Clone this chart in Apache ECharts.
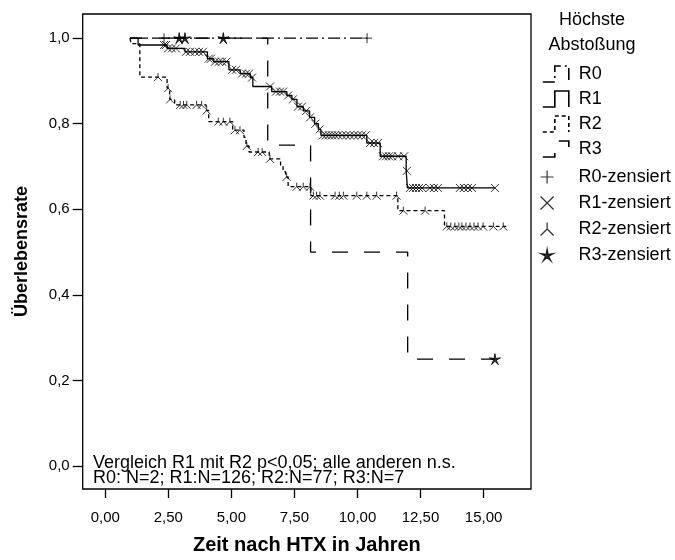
<!DOCTYPE html>
<html><head><meta charset="utf-8">
<script src="https://cdn.jsdelivr.net/npm/echarts@6/dist/echarts.min.js"></script>
<style>html,body{margin:0;padding:0;background:#fff}#c{width:675px;height:560px}</style>
</head><body><div id="c"></div>
<script>
const xTicks = [0, 2.5, 5, 7.5, 10, 12.5, 15];
const yTicks = [0, 0.2, 0.4, 0.6, 0.8, 1.0];
const groups = ['R0', 'R1', 'R2', 'R3'];
const censNames = ['R0-zensiert', 'R1-zensiert', 'R2-zensiert', 'R3-zensiert'];

// Kaplan-Meier steps: [time in years, survival after that time]
const r0Steps = [[0.98, 1.0], [10.38, 1.0]];
const r0Cens = [2.33, 10.38];

const r1Steps = [[0.98,1.0],[1.30,0.984],[2.45,0.976],[3.16,0.968],[4.05,0.952],[4.30,0.945],[4.90,0.926],[5.35,0.917],[5.75,0.908],[5.85,0.887],[6.60,0.875],[7.20,0.866],[7.40,0.857],[7.60,0.840],[7.85,0.830],[8.10,0.815],[8.30,0.800],[8.45,0.787],[8.55,0.773],[10.37,0.755],[10.90,0.724],[11.93,0.690],[11.98,0.650],[15.45,0.650]];
const r1Cens = [2.33,2.41,2.49,2.64,2.80,3.20,3.36,3.56,3.72,3.87,4.10,4.19,4.35,4.51,4.63,4.80,5.03,5.18,5.42,5.58,5.70,5.82,6.53,6.77,6.93,7.05,7.25,7.44,7.64,7.80,7.97,8.12,8.33,8.50,8.63,8.75,8.87,8.99,9.11,9.23,9.39,9.55,9.70,9.86,10.02,10.17,10.33,10.50,10.65,10.81,11.01,11.13,11.25,11.37,11.61,11.85,11.96,12.08,12.20,12.32,12.44,12.56,12.87,13.03,13.19,14.06,14.22,14.38,14.54,15.45];

const r2Steps = [[0.98,1.0],[1.02,0.987],[1.37,0.909],[2.45,0.883],[2.55,0.857],[2.75,0.844],[4.00,0.831],[4.10,0.805],[5.05,0.785],[5.50,0.768],[5.58,0.748],[5.70,0.734],[6.50,0.718],[6.95,0.700],[7.05,0.688],[7.15,0.676],[7.25,0.653],[8.15,0.632],[11.60,0.597],[13.45,0.560],[15.90,0.560]];
const r2Cens = [2.09,2.49,2.57,2.97,3.10,3.23,3.62,3.82,4.02,4.48,4.68,4.94,5.14,5.34,5.61,6.06,6.22,6.53,7.19,7.59,7.85,8.12,8.25,8.38,8.51,9.11,9.28,9.44,9.97,10.37,10.76,11.55,11.82,12.68,13.54,13.70,13.86,14.02,14.14,14.30,14.46,14.62,14.78,14.98,15.39,15.78];

const r3Steps = [[0.98,1.0],[6.44,0.75],[8.14,0.5],[11.99,0.25],[15.45,0.25]];
const r3Cens = [2.93, 3.16, 4.68, 15.45];

const noteLines = ['Vergleich R1 mit R2 p<0,05; alle anderen n.s.', 'R0: N=2; R1:N=126; R2:N=77; R3:N=7'];

function survAt(steps, t) {
  let s = steps[0][1];
  for (const p of steps) if (p[0] <= t + 1e-9) s = p[1];
  return s;
}
function starPath() {
  let p = '';
  for (let i = 0; i < 10; i++) {
    const r = i % 2 ? 1.5 : 6;
    const a = -Math.PI / 2 + i * Math.PI / 5;
    p += (i ? 'L' : 'M') + (r * Math.cos(a)).toFixed(2) + ',' + (r * Math.sin(a)).toFixed(2);
  }
  return 'path://' + p + 'Z';
}
const SYM = {
  plus: 'path://M5,0L5,10M0,5L10,5',
  cross: 'path://M0,0L10,10M0,10L10,0',
  ylam: 'path://M5,0L5,5M5,5L0,10M5,5L10,10',
  star: starPath()
};
const stepIcon = 'path://M0,16L12,16L12,0L26,0L26,16';
const FONT = 'Liberation Sans, Arial, sans-serif';

const allSteps = [r0Steps, r1Steps, r2Steps, r3Steps];
const allCens = [r0Cens, r1Cens, r2Cens, r3Cens];
const dashes = [[12, 4, 2, 4], 'solid', [4, 3], [16, 16]];
const syms = [SYM.plus, SYM.cross, SYM.ylam, SYM.star];
const symSizes = [10, 8, 8, 11];

const series = [];
groups.forEach((g, i) => {
  series.push({
    name: g, type: 'line', step: 'end', data: allSteps[i], showSymbol: false, symbol: 'none',
    lineStyle: { color: '#000', width: 1.3, type: dashes[i] }, itemStyle: { color: '#000' },
    animation: false, z: 2
  });
});
groups.forEach((g, i) => {
  series.push({
    name: censNames[i], type: 'scatter', symbol: syms[i], symbolSize: symSizes[i],
    data: allCens[i].map(t => [t, survAt(allSteps[i], t)]),
    itemStyle: { color: '#000', borderColor: '#000', borderWidth: 1 },
    animation: false, z: 3
  });
});

const chart = echarts.init(document.getElementById('c'), null, { renderer: 'canvas' });
chart.setOption({
  backgroundColor: '#fff',
  animation: false,
  grid: { left: 82.7, right: 144, top: 14, bottom: 68, show: true, borderColor: '#000', borderWidth: 1.3, containLabel: false },
  xAxis: {
    type: 'value', min: -0.896, max: 16.88,
    name: 'Zeit nach HTX in Jahren', nameLocation: 'middle', nameGap: 46,
    nameTextStyle: { fontFamily: FONT, fontSize: 20, fontWeight: 'bold', color: '#000' },
    axisLine: { show: false, onZero: false },
    axisTick: { show: true, customValues: xTicks, length: 9, lineStyle: { color: '#000', width: 1.3 } },
    axisLabel: { customValues: xTicks, formatter: v => v.toFixed(2).replace('.', ','), fontFamily: FONT, fontSize: 15, color: '#000', margin: 21 },
    splitLine: { show: false }
  },
  yAxis: {
    type: 'value', min: -0.0534, max: 1.0564,
    name: 'Überlebensrate', nameLocation: 'middle', nameGap: 52, nameRotate: 90,
    nameTextStyle: { fontFamily: FONT, fontSize: 18, fontWeight: 'bold', color: '#000' },
    axisLine: { show: false, onZero: false },
    axisTick: { show: true, customValues: yTicks, length: 10, lineStyle: { color: '#000', width: 1.3 } },
    axisLabel: { customValues: yTicks, formatter: v => v.toFixed(1).replace('.', ','), fontFamily: FONT, fontSize: 15, color: '#000', margin: 13 },
    splitLine: { show: false }
  },
  legend: [
    {
      orient: 'vertical', left: 537, top: 60, itemWidth: 28, itemHeight: 16, itemGap: 7,
      selectedMode: false,
      textStyle: { fontFamily: FONT, fontSize: 18, color: '#000', padding: [0, 0, 0, 4] },
      data: groups.map((g, i) => ({
        name: g, icon: stepIcon,
        itemStyle: { color: 'rgba(0,0,0,0)', borderColor: '#000', borderWidth: 1.6, borderType: dashes[i] }
      }))
    },
    {
      orient: 'vertical', left: 535, top: 163, itemWidth: 13, itemHeight: 13, itemGap: 8,
      selectedMode: false,
      textStyle: { fontFamily: FONT, fontSize: 18, color: '#000', padding: [0, 0, 0, 20] },
      data: censNames.map((g, i) => ({
        name: g, icon: syms[i],
        itemStyle: { color: '#000', borderColor: '#000', borderWidth: 1.2 }
      }))
    }
  ],
  graphic: [
    { type: 'text', x: 592, y: 20, style: { text: 'Höchste', font: '18px ' + FONT, fill: '#000', align: 'center', verticalAlign: 'middle' } },
    { type: 'text', x: 592, y: 45, style: { text: 'Abstoßung', font: '18px ' + FONT, fill: '#000', align: 'center', verticalAlign: 'middle' } },
    { type: 'text', x: 93, y: 463, style: { text: noteLines[0], font: '18px ' + FONT, fill: '#000', align: 'left', verticalAlign: 'middle' } },
    { type: 'text', x: 93, y: 478, style: { text: noteLines[1], font: '18px ' + FONT, fill: '#000', align: 'left', verticalAlign: 'middle' } }
  ],
  series: series
});
</script></body></html>
